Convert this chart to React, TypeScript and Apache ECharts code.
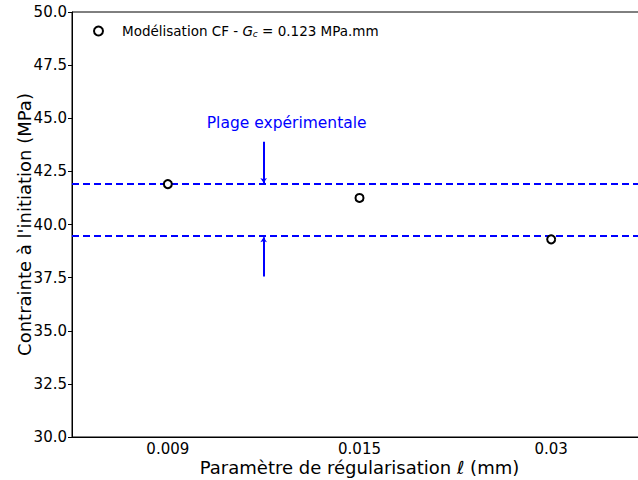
import React, { useEffect, useRef } from "react";
import * as echarts from "echarts";

const categories = ["0.009", "0.015", "0.03"];
const stress = [41.9, 41.25, 39.3];
const expRange = [39.45, 41.9];
const arrowTop = [43.9, 41.95];
const arrowBottom = [37.55, 39.4];
const yTicks = [30, 32.5, 35, 37.5, 40, 42.5, 45, 47.5, 50];

const FONT = "DejaVu Sans";

export default function App() {
  const ref = useRef<HTMLDivElement>(null);
  useEffect(() => {
    if (!ref.current) return;
    const chart = echarts.init(ref.current, null, { renderer: "svg" });
    const blue = "#0000ff";
    chart.setOption({
      animation: false,
      textStyle: { fontFamily: FONT },
      grid: {
        left: 72,
        top: 12,
        bottom: 43,
        right: 0,
        outerBoundsMode: "none",
        containLabel: false,
        show: true,
        borderColor: "#000",
        borderWidth: 1,
      },
      legend: {
        left: 88,
        top: 19,
        data: ["model"],
        icon: "circle",
        itemWidth: 9,
        itemHeight: 9,
        itemGap: 0,
        itemStyle: { color: "#fff", borderColor: "#000", borderWidth: 2 },
        formatter: () =>
          "{a|Modélisation CF - }{i|G}{s|c}{a| = 0.123 MPa.mm}",
        textStyle: {
          padding: [0, 0, 0, 14],
          rich: {
            a: { fontSize: 13.5, fontFamily: FONT, color: "#000" },
            i: { fontSize: 13.5, fontFamily: FONT, fontStyle: "italic", color: "#000" },
            s: {
              fontSize: 9,
              fontFamily: FONT,
              fontStyle: "italic",
              color: "#000",
              verticalAlign: "bottom",
              padding: [6, 0, 0, 0],
            },
          },
        },
      },
      xAxis: {
        type: "value",
        min: -0.5,
        max: 2.5,
        name: "Paramètre de régularisation ℓ (mm)",
        nameLocation: "middle",
        nameGap: 21,
        nameMoveOverlap: false,
        nameTextStyle: { fontSize: 18, color: "#000", fontFamily: FONT },
        axisLine: { onZero: false, lineStyle: { color: "#000", width: 1 } },
        axisTick: { show: false },
        splitLine: { show: false },
        axisLabel: {
          customValues: [0, 1, 2],
          formatter: (v: number) => categories[Math.round(v)] ?? "",
          fontSize: 15,
          color: "#000",
          margin: 4,
          fontFamily: FONT,
        },
      },
      yAxis: {
        type: "value",
        min: 30,
        max: 50,
        interval: 2.5,
        name: "Contrainte à l'initiation (MPa)",
        nameLocation: "middle",
        nameGap: 39,
        nameMoveOverlap: false,
        nameTextStyle: { fontSize: 18, color: "#000", fontFamily: FONT },
        axisLine: { show: true, onZero: false, lineStyle: { color: "#000", width: 1 } },
        axisTick: { show: true, length: 4, lineStyle: { color: "#000" } },
        splitLine: { show: false },
        axisLabel: {
          customValues: yTicks,
          formatter: (v: number) => v.toFixed(1),
          fontSize: 15,
          color: "#000",
          margin: 5,
          fontFamily: FONT,
        },
      },
      series: [
        {
          name: "model",
          type: "scatter",
          symbol: "emptyCircle",
          symbolSize: 8,
          itemStyle: { color: "#000", borderColor: "#000", borderWidth: 2, opacity: 1 },
          data: categories.map((_, i) => [i, stress[i]]),
          z: 5,
          markLine: {
            silent: true,
            symbol: ["none", "none"],
            label: { show: false },
            lineStyle: { color: blue, width: 2, type: [7, 4], opacity: 1 },
            data: expRange.map((v) => ({ yAxis: v })),
          },
        },
        {
          name: "arrows",
          type: "line",
          data: [],
          markLine: {
            silent: true,
            symbol: ["none", "arrow"],
            symbolSize: 5,
            label: { show: false },
            lineStyle: { color: blue, width: 2, type: "solid", opacity: 1 },
            data: [
              [{ coord: [0.5, arrowTop[0]] }, { coord: [0.5, arrowTop[1]] }],
              [{ coord: [0.5, arrowBottom[0]] }, { coord: [0.5, arrowBottom[1]] }],
            ],
          },
        },
        {
          name: "annot",
          type: "scatter",
          symbolSize: 0,
          silent: true,
          itemStyle: { opacity: 1 },
          data: [[0.62, 44.8]],
          label: {
            show: true,
            position: "inside",
            formatter: "Plage expérimentale",
            color: blue,
            opacity: 1,
            fontSize: 15.5,
            fontFamily: FONT,
          },
        },
      ],
    });
    return () => chart.dispose();
  }, []);
  return (
    <div
      style={{
        position: "absolute",
        top: 0,
        left: 0,
        width: 638,
        height: 480,
        overflow: "hidden",
        background: "#fff",
      }}
    >
      <div ref={ref} style={{ width: 647, height: 480 }} />
    </div>
  );
}
